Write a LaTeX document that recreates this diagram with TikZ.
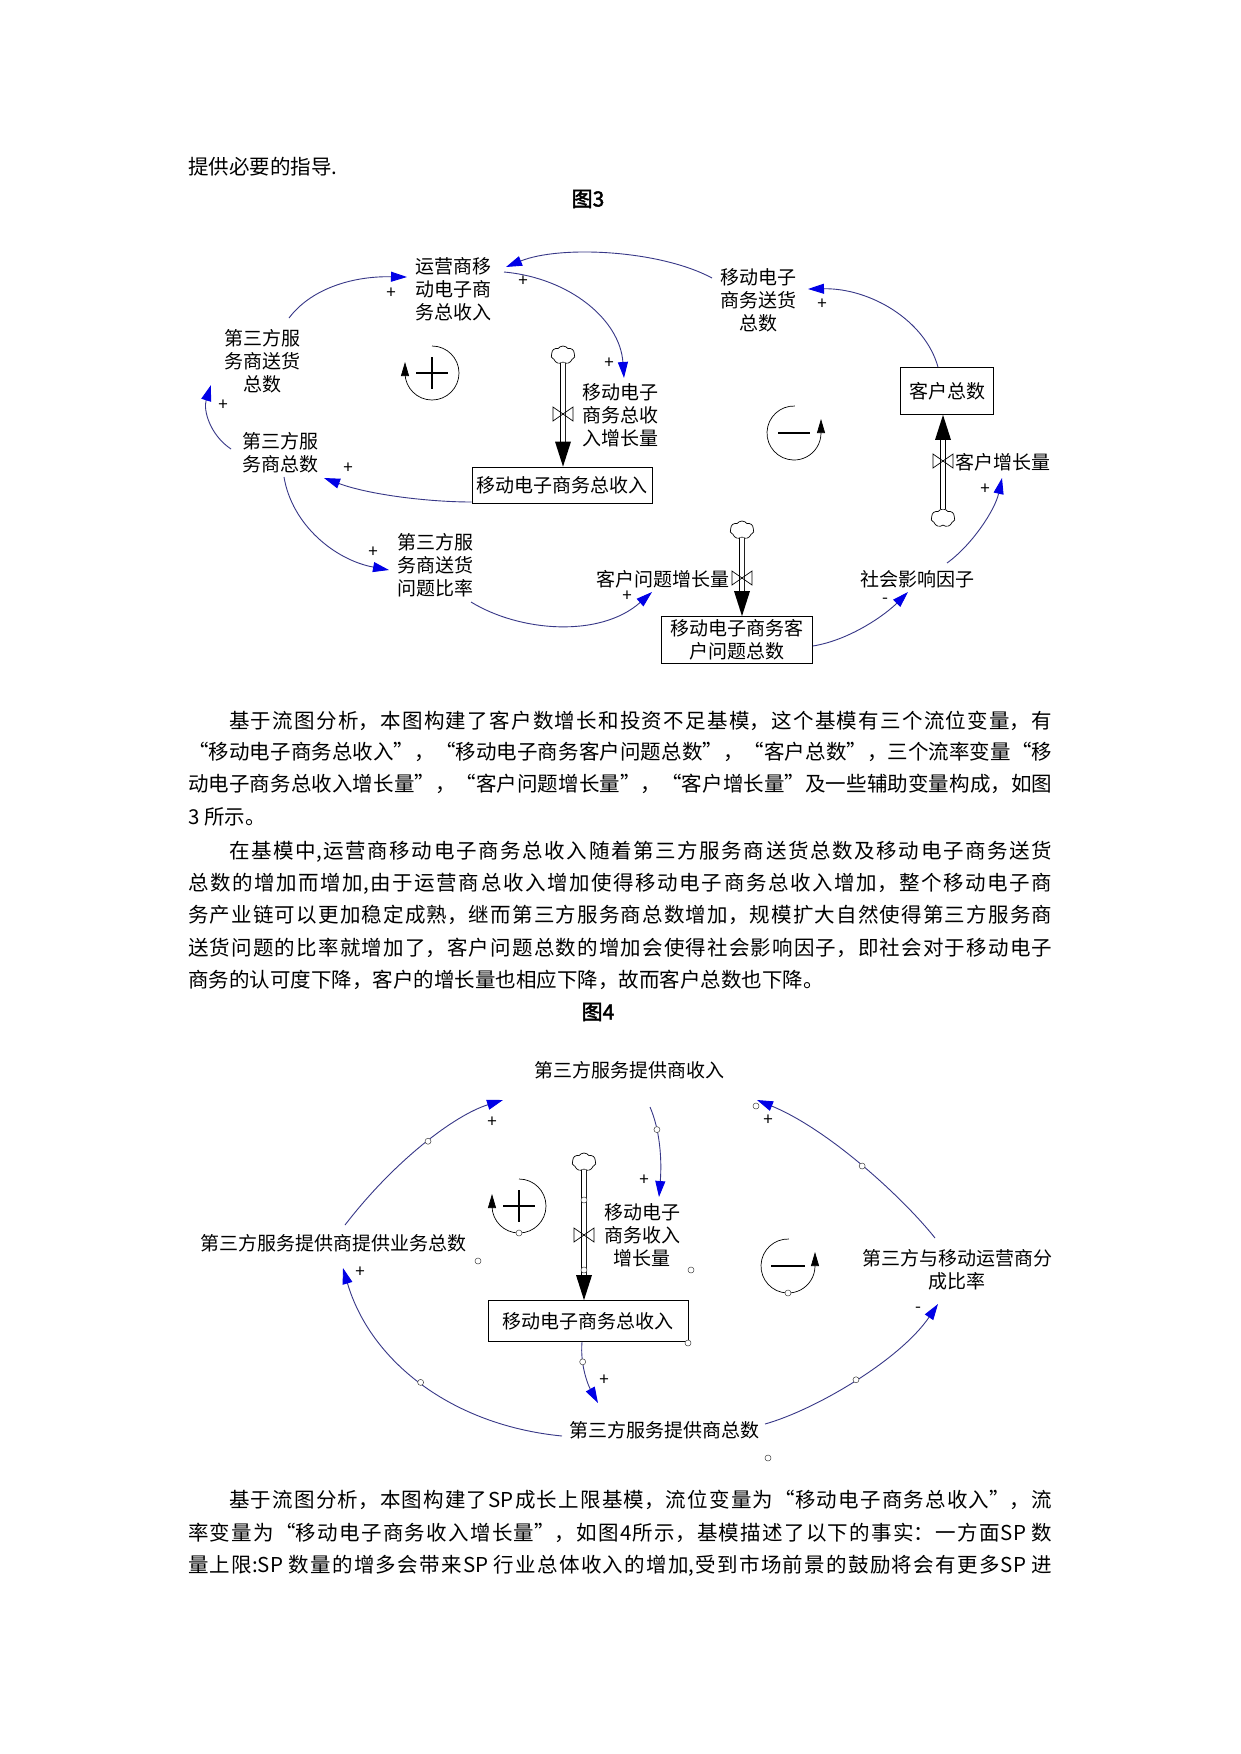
\documentclass[tikz,border=0pt]{standalone}
\usepackage{fontspec}
\setmainfont{Noto Sans CJK SC}[AutoFakeBold=2]
\usetikzlibrary{arrows.meta,shapes.symbols,calc}
\XeTeXlinebreaklocale "zh"
\XeTeXlinebreakskip=0pt plus 3pt minus 0.4pt
\XeTeXlinebreakpenalty=0
\tolerance=10000
\pretolerance=-1
\definecolor{linkc}{RGB}{55,55,135}
\definecolor{tipc}{RGB}{0,0,230}
\newcommand\bodyfs{\fontsize{20.5}{32}\selectfont}
\newcommand\labfs{\fontsize{19}{23}\selectfont}
\newcommand\polfs{\fontsize{17}{17}\selectfont}
\newcommand\myjust[1]{\parbox[b]{864pt}{\parfillskip=0pt\relax #1}}
\newcommand\myleft[1]{\parbox[b]{864pt}{\parfillskip=0pt plus 1fil\relax #1}}
\begin{document}
\begin{tikzpicture}[x=1pt,y=-1pt,
  lab/.style={inner sep=0pt, align=center, font=\labfs},
  stockbox/.style={draw, line width=0.8pt, inner sep=2pt, align=center, font=\labfs},
  link/.style={draw=linkc, line width=0.9pt, -{Triangle[length=16pt,width=10pt,color=tipc]}},
  pol/.style={inner sep=0pt, font=\polfs},
  pipe/.style={draw, double, double distance=4pt, line width=0.8pt},
  cloudst/.style={cloud, draw, cloud puffs=7, cloud puff arc=110, aspect=1.3, minimum width=24pt, minimum height=18pt, inner sep=0pt, line width=0.7pt, fill=white},
  loopst/.style={line width=0.7pt, -{Triangle[length=14pt,width=8pt]}},
  valvest/.style={draw, line width=0.7pt},
  signst/.style={line width=2.4pt},
  ctrl/.style={circle, draw=black!75, fill=white, line width=0.5pt, inner sep=0pt, minimum size=6pt},
  bodyline/.style={anchor=base west, inner sep=0pt, font=\bodyfs},
  capst/.style={inner sep=0pt, font=\fontsize{21}{21}\selectfont\bfseries},
]
\fill[white] (0,0) rectangle (1241,1754);
\useasboundingbox (0,0) rectangle (1241,1754);

% ---------- top text ----------
\node[bodyline] (t0) at (188,174) {提供必要的指导.};
\node[capst] (cap3) at (588,199) {图3};

% ---------- Figure 3 ----------
\node[lab] (yy) at (453,289) {运营商移\\动电子商\\务总收入};
\node[lab] (sh) at (758,300) {移动电子\\商务送货\\总数};
\node[lab] (tsd) at (262,361) {第三方服\\务商送货\\总数};
\node[lab] (tsz) at (280,453) {第三方服\\务商总数};
\node[lab] (gr) at (620,415) {移动电子\\商务总收\\入增长量};
\node[stockbox, minimum width=180pt, minimum height=36pt] (box1) at (562,485) {移动电子商务总收入};
\node[lab] (bl) at (435,565) {第三方服\\务商送货\\问题比率};
\node[lab, anchor=east] (kgr) at (730,579) {客户问题增长量};
\node[stockbox, minimum width=151pt, minimum height=47pt] (box2) at (737,640) {移动电子商务客\\户问题总数};
\node[lab] (sy) at (917,579) {社会影响因子};
\node[stockbox, minimum width=93pt, minimum height=47pt] (box3) at (947,391) {客户总数};
\node[lab, anchor=west] (kzz) at (955,462) {客户增长量};

% flows
\node[cloudst] (c1) at (563,355) {};
\node[cloudst] (c2) at (742,530) {};
\node[cloudst] (c3) at (943,518) {};
\coordinate (t1) at (c1 |- box1.north);
\coordinate (t2) at (c2 |- box2.north);
\coordinate (t3) at (c3 |- box3.south);
\draw[pipe] (c1.south) -- ($(t1)+(0,-22)$);
\fill[shift={(t1)}] (-8,-25) -- (0,0) -- (8,-25) -- cycle;
\draw[pipe] (c2.south) -- ($(t2)+(0,-22)$);
\fill[shift={(t2)}] (-8,-25) -- (0,0) -- (8,-25) -- cycle;
\draw[pipe] (c3.north) -- ($(t3)+(0,22)$);
\fill[shift={(t3)}] (-8,25) -- (0,0) -- (8,25) -- cycle;
\coordinate (v1) at (563,414);
\coordinate (v2) at (742,578);
\coordinate (v3) at (943,461);
\draw[valvest, shift={(v1)}] (-10,-7) -- (10,7) -- (10,-7) -- (-10,7) -- cycle;
\draw[valvest, shift={(v2)}] (-10,-7) -- (10,7) -- (10,-7) -- (-10,7) -- cycle;
\draw[valvest, shift={(v3)}] (-10,-7) -- (10,7) -- (10,-7) -- (-10,7) -- cycle;

% loops
\coordinate (L1) at (432,373);
\draw[loopst] ($(L1)+(-90:27)$) arc[start angle=-90, end angle=180, radius=27] -- ++(0,-11);
\draw[signst] ($(L1)+(-16,0)$) -- ($(L1)+(16,0)$) ($(L1)+(0,-16)$) -- ($(L1)+(0,16)$);
\coordinate (L2) at (794,433);
\draw[loopst] ($(L2)+(-88:27)$) arc[start angle=-88, end angle=-360, radius=27] -- ++(0,-14);
\draw[signst] ($(L2)+(-16,0)$) -- ($(L2)+(16,0)$);

% links
\draw[link] ($(sh)+(-46,-22)$) .. controls +(-52,-28) and +(54,-22) .. ($(yy)+(53,-22)$);
\draw[link] ($(yy)+(51,-17)$) .. controls +(66,6) and +(-4,-58) .. ($(gr)+(4,-37)$);
\draw[link] ($(tsd)+(27,-43)$) .. controls +(21,-28) and +(-57,-1) .. ($(yy)+(-46,-12)$);
\draw[link] ($(tsz)+(-49,-4)$) .. controls +(-21,-14) and +(-8,25) .. ($(tsd)+(-51,24)$);
\draw[link] ($(box1.west)+(0,17)$) .. controls +(-42,0) and +(46,17) .. ($(tsz)+(44,25)$);
\draw[link] ($(tsz)+(4,24)$) .. controls +(8,48) and +(-54,-10) .. ($(bl)+(-46,5)$);
\draw[link] ($(bl)+(36,37)$) .. controls +(49,30) and +(-52,46) .. ($(kgr.east)+(-78,13)$);
\draw[link] ($(box2.east)+(0,6)$) .. controls +(37,-6) and +(-23,23) .. ($(sy)+(-9,13)$);
\draw[link] ($(sy)+(30,-16)$) .. controls +(25,-18) and +(-7,32) .. ($(kzz.west)+(47,16)$);
\draw[link] ($(box3.north)+(-9,0)$) .. controls +(-13,-47) and +(62,-1) .. ($(sh)+(50,-11)$);

% polarities
\node[pol] (s1) at (391,293) {+};
\node[pol] (s2) at (523,281) {+};
\node[pol] (s3) at (609,363) {+};
\node[pol] (s4) at (822,304) {+};
\node[pol] (s5) at (223,405) {+};
\node[pol] (s6) at (348,468) {+};
\node[pol] (s7) at (373,552) {+};
\node[pol] (s8) at (627,596) {+};
\node[pol] (s9) at (885,601) {-};
\node[pol] (s10) at (985,489) {+};

% ---------- middle text ----------
\node[bodyline] (p1a) at (188,728) {\myjust{\hspace*{2em}基于流图分析，本图构建了客户数增长和投资不足基模，这个基模有三个流位变量，有}};
\node[bodyline] (p1b) at (188,759) {\myjust{“移动电子商务总收入”，“移动电子商务客户问题总数”，“客户总数”，三个流率变量“移}};
\node[bodyline] (p1c) at (188,791) {\myjust{动电子商务总收入增长量”，“客户问题增长量”，“客户增长量”及一些辅助变量构成，如图}};
\node[bodyline] (p1d) at (188,824) {\myleft{3 所示。}};
\node[bodyline] (p2a) at (188,858) {\myjust{\hspace*{2em}在基模中,运营商移动电子商务总收入随着第三方服务商送货总数及移动电子商务送货}};
\node[bodyline] (p2b) at (188,890) {\myjust{总数的增加而增加,由于运营商总收入增加使得移动电子商务总收入增加，整个移动电子商}};
\node[bodyline] (p2c) at (188,922) {\myjust{务产业链可以更加稳定成熟，继而第三方服务商总数增加，规模扩大自然使得第三方服务商}};
\node[bodyline] (p2d) at (188,955) {\myjust{送货问题的比率就增加了，客户问题总数的增加会使得社会影响因子，即社会对于移动电子}};
\node[bodyline] (p2e) at (188,987) {\myleft{商务的认可度下降，客户的增长量也相应下降，故而客户总数也下降。}};
\node[capst] (cap4) at (598,1012) {图4};

% ---------- Figure 4 ----------
\node[lab] (n4a) at (629,1070) {第三方服务提供商收入};
\node[lab] (n4b) at (333,1243) {第三方服务提供商提供业务总数};
\node[lab] (gr4) at (642,1235) {移动电子\\商务收入\\增长量};
\node[stockbox, minimum width=200pt, minimum height=41pt] (box4) at (588,1321) {移动电子商务总收入};
\node[lab] (n4d) at (664,1430) {第三方服务提供商总数};
\node[lab] (n4c) at (957,1270) {第三方与移动运营商分\\成比率};

\node[cloudst] (c4) at (584,1162) {};
\coordinate (t4) at (c4 |- box4.north);
\draw[pipe] (c4.south) -- ($(t4)+(0,-22)$);
\fill[shift={(t4)}] (-8,-25) -- (0,0) -- (8,-25) -- cycle;
\coordinate (v4) at (584,1235);
\draw[valvest, shift={(v4)}] (-10,-7) -- (10,7) -- (10,-7) -- (-10,7) -- cycle;
\node[ctrl] (k1) at (584,1200) {};
\node[ctrl] (k2) at (584,1270) {};

\coordinate (L3) at (519,1206);
\draw[loopst] ($(L3)+(-90:27)$) arc[start angle=-90, end angle=180, radius=27] -- ++(0,-12);
\draw[signst] ($(L3)+(-16,0)$) -- ($(L3)+(16,0)$) ($(L3)+(0,-16)$) -- ($(L3)+(0,16)$);
\node[ctrl] (k3) at (519,1233) {};
\coordinate (L4) at (788,1266);
\draw[loopst] ($(L4)+(-88:27)$) arc[start angle=-88, end angle=-360, radius=27] -- ++(0,-14);
\draw[signst] ($(L4)+(-17,0)$) -- ($(L4)+(17,0)$);
\node[ctrl] (k4) at (788,1293) {};

\draw[link] ($(n4b)+(12,-18)$) .. controls +(50,-65) and +(-48,15) .. ($(n4a)+(-126,30)$) node[ctrl, pos=.52] (k5) {};
\draw[link] ($(n4a)+(21,37)$) .. controls +(10,23) and +(3,-37) .. ($(gr4)+(17,-38)$) node[ctrl, pos=.3] (k6) {};
\draw[link] ($(n4c)+(-22,-32)$) .. controls +(-30,-38) and +(73,30) .. ($(n4a)+(128,30)$) node[ctrl, pos=.5] (k7) {};
\draw[link] ($(n4d)+(-102,6)$) .. controls +(-112,-11) and +(27,92) .. ($(n4b)+(10,25)$) node[ctrl, pos=.5] (k8) {};
\draw[link] ($(box4.south)+(-6,0)$) .. controls +(-2,23) and +(-10,-18) .. ($(n4d)+(-66,-27)$) node[ctrl, pos=.3] (k9) {};
\draw[link] ($(n4d)+(101,-6)$) .. controls +(50,-14) and +(-38,56) .. ($(n4c)+(-19,34)$) node[ctrl, pos=.5] (k10) {};

\node[ctrl] (k11) at (478,1261) {};
\node[ctrl] (k12) at (691,1270) {};
\node[ctrl] (k13) at (756,1106) {};
\node[ctrl] (k14) at (688,1343) {};
\node[ctrl] (k15) at (768,1458) {};

\node[pol] (q1) at (492,1122) {+};
\node[pol] (q2) at (644,1180) {+};
\node[pol] (q3) at (768,1120) {+};
\node[pol] (q4) at (360,1272) {+};
\node[pol] (q5) at (604,1380) {+};
\node[pol] (q6) at (918,1310) {-};

% ---------- bottom text ----------
\node[bodyline] (p3a) at (188,1507) {\myjust{\hspace*{2em}基于流图分析，本图构建了SP成长上限基模，流位变量为“移动电子商务总收入”，流}};
\node[bodyline] (p3b) at (188,1540) {\myjust{率变量为“移动电子商务收入增长量”，如图4所示，基模描述了以下的事实：一方面SP 数}};
\node[bodyline] (p3c) at (188,1572) {\myjust{量上限:SP 数量的增多会带来SP 行业总体收入的增加,受到市场前景的鼓励将会有更多SP 进}};
\end{tikzpicture}
\end{document}
